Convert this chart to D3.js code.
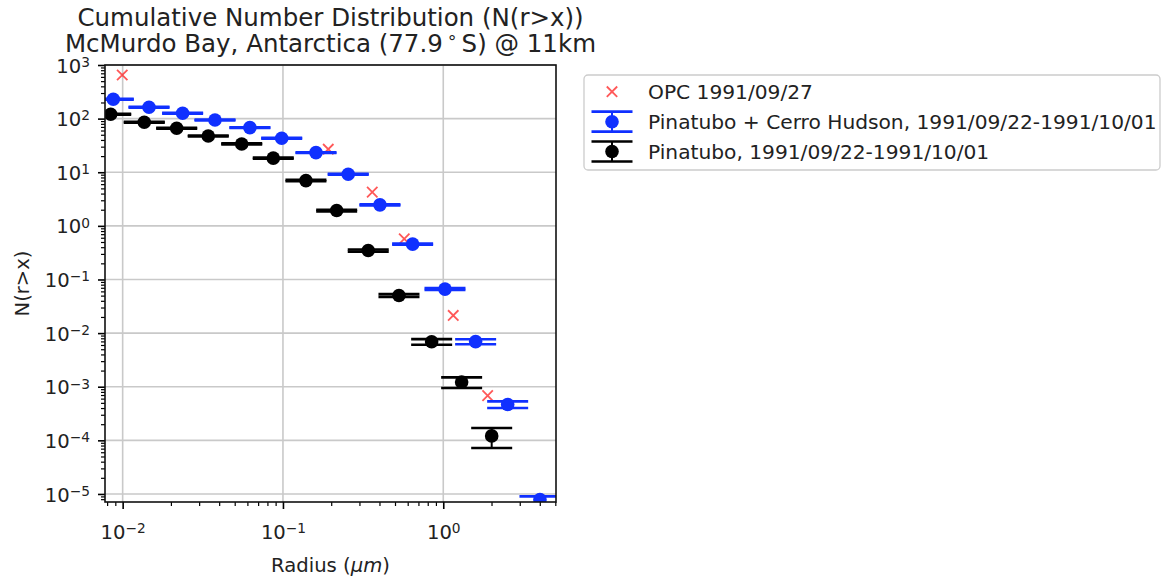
<!DOCTYPE html>
<html>
<head>
<meta charset="utf-8">
<script src="https://cdn.jsdelivr.net/npm/d3@7"></script>
<style>
  body { margin: 0; background: #fff; }
  text { font-family: "DejaVu Sans", sans-serif; }
</style>
</head>
<body>
<div id="chart"></div>
<script>
var svgWidth = 1164;
var svgHeight = 577;

var margin = { top: 65, right: 608, bottom: 75, left: 105 };
var width = svgWidth - margin.left - margin.right;
var height = svgHeight - margin.top - margin.bottom;

// OPC measurement (red crosses)
var opcRadius = [0.00994, 0.1917, 0.3606, 0.571, 1.154, 1.892];
var opcN = [651, 26.9, 4.25, 0.573, 0.02133, 0.000681];

// Pinatubo + Cerro Hudson (blue)
var combRadius = [0.00874, 0.0146, 0.02366, 0.03767, 0.0622, 0.0982, 0.1607,
  0.2553, 0.4027, 0.644, 1.025, 1.592, 2.522, 4.01];
var combN = [229.6, 163, 126, 94.4, 67.9, 43.1, 23.2, 9.19, 2.464, 0.456,
  0.0662, 0.00694, 0.000467, 7.85e-6];
var combErr = [3.0, 2.2, 1.7, 1.3, 0.9, 0.6, 0.35, 0.15, 0.05, 0.012,
  0.0025, 0.00074, 0.000066, 1.2e-6];

// Pinatubo only (black)
var pinRadius = [0.00842, 0.01364, 0.02173, 0.0342, 0.0553, 0.087, 0.1391,
  0.2163, 0.3404, 0.5293, 0.8464, 1.302, 2.005];
var pinN = [120.6, 85.6, 66.2, 47.5, 33.7, 18.3, 6.99, 1.929, 0.3467, 0.0503,
  0.0069, 0.00122, 0.000121];
var pinErr = [1.6, 1.3, 1.1, 0.9, 0.7, 0.45, 0.2, 0.07, 0.016, 0.0028,
  0.00084, 0.000274, 0.000049];

// axis limits and ticks
var xDomain = [0.00776, 5.05];
var yDomain = [7.08e-6, 1000];
var xMajorTicks = [0.01, 0.1, 1];
var xTickExp = [-2, -1, 0];
var yMajorTicks = [1e-5, 1e-4, 1e-3, 1e-2, 1e-1, 1, 10, 100, 1000];
var yTickExp = [-5, -4, -3, -2, -1, 0, 1, 2, 3];

var legendLabels = [
  "OPC 1991/09/27",
  "Pinatubo + Cerro Hudson, 1991/09/22-1991/10/01",
  "Pinatubo, 1991/09/22-1991/10/01",
];

var blue = "#1030ff";
var fontSize = 19.6;
var legendFontSize = 20.2;

var svg = d3
  .select("#chart")
  .append("svg")
  .attr("width", svgWidth)
  .attr("height", svgHeight);

var chartGroup = svg
  .append("g")
  .attr("transform", `translate(${margin.left}, ${margin.top})`);

var x = d3.scaleLog().domain(xDomain).range([0, width]);
var y = d3.scaleLog().domain(yDomain).range([height, 0]);

svg.append("defs")
  .append("clipPath")
  .attr("id", "plot-clip")
  .append("rect")
  .attr("width", width)
  .attr("height", height);

// grid
var grid = chartGroup.append("g");
grid.selectAll(".gx")
  .data(xMajorTicks)
  .enter()
  .append("line")
  .attr("x1", (d) => x(d))
  .attr("x2", (d) => x(d))
  .attr("y1", 0)
  .attr("y2", height)
  .attr("stroke", "#c9c9c9")
  .attr("stroke-width", 1.6);
grid.selectAll(".gy")
  .data(yMajorTicks)
  .enter()
  .append("line")
  .attr("x1", 0)
  .attr("x2", width)
  .attr("y1", (d) => y(d))
  .attr("y2", (d) => y(d))
  .attr("stroke", "#c9c9c9")
  .attr("stroke-width", 1.6);

var plot = chartGroup.append("g").attr("clip-path", "url(#plot-clip)");

// red crosses
function cross(g, cx, cy, s) {
  g.append("path")
    .attr("d", `M${cx - s},${cy - s}L${cx + s},${cy + s}M${cx - s},${cy + s}L${cx + s},${cy - s}`)
    .attr("stroke", "#ff2020")
    .attr("stroke-opacity", 0.75)
    .attr("stroke-width", 1.8)
    .attr("fill", "none");
}
opcRadius.forEach(function (r, i) {
  cross(plot, x(r), y(opcN[i]), 5.2);
});

// error bars with wide caps, markers on top
var capHalf = 20.5;
function errorSeries(radius, n, err, color) {
  var g = plot.append("g");
  radius.forEach(function (r, i) {
    var cx = x(r);
    var lo = n[i] - err[i];
    var yTop = y(n[i] + err[i]);
    var yBot = lo > 0 ? y(lo) : height + 50;
    g.append("line")
      .attr("x1", cx).attr("x2", cx)
      .attr("y1", yTop).attr("y2", yBot)
      .attr("stroke", color).attr("stroke-width", 2);
    [yTop, yBot].forEach(function (cy) {
      g.append("line")
        .attr("x1", cx - capHalf).attr("x2", cx + capHalf)
        .attr("y1", cy).attr("y2", cy)
        .attr("stroke", color).attr("stroke-width", 2.7);
    });
  });
  g.selectAll("circle")
    .data(radius)
    .enter()
    .append("circle")
    .attr("cx", (d) => x(d))
    .attr("cy", (d, i) => y(n[i]))
    .attr("r", 6.8)
    .attr("fill", color);
}
errorSeries(combRadius, combN, combErr, blue);
errorSeries(pinRadius, pinN, pinErr, "#000");

// axes
function supLabel(sel, exps) {
  sel.each(function (d, i) {
    var t = d3.select(this).text(null);
    var e = exps[i];
    t.append("tspan").text("10");
    t.append("tspan")
      .attr("dy", "-0.42em")
      .attr("font-size", "0.7em")
      .text(e < 0 ? "\u2212" + -e : e);
  });
}

var xAxis = chartGroup
  .append("g")
  .classed("x-axis", true)
  .attr("transform", `translate(0, ${height})`)
  .call(d3.axisBottom(x).tickValues(x.ticks().filter((d) => xMajorTicks.indexOf(d) < 0)).tickSize(4).tickFormat(""));
xAxis.selectAll("line").attr("stroke-width", 1.2);

var xAxisMajor = chartGroup
  .append("g")
  .attr("transform", `translate(0, ${height})`)
  .call(d3.axisBottom(x).tickValues(xMajorTicks).tickSize(7).tickPadding(9));
xAxisMajor.selectAll("line").attr("stroke-width", 1.6);
xAxisMajor.selectAll("text")
  .attr("font-size", fontSize)
  .attr("font-family", "DejaVu Sans")
  .attr("fill", "#222")
  .attr("dy", "1.05em")
  .call(supLabel, xTickExp);

var yAxis = chartGroup
  .append("g")
  .classed("y-axis", true)
  .call(d3.axisLeft(y).tickValues(y.ticks().filter((d) => yMajorTicks.indexOf(d) < 0)).tickSize(4).tickFormat(""));
yAxis.selectAll("line").attr("stroke-width", 1.2);

var yAxisMajor = chartGroup
  .append("g")
  .call(d3.axisLeft(y).tickValues(yMajorTicks).tickSize(7).tickPadding(8));
yAxisMajor.selectAll("line").attr("stroke-width", 1.6);
yAxisMajor.selectAll("text")
  .attr("font-size", fontSize)
  .attr("font-family", "DejaVu Sans")
  .attr("fill", "#222")
  .attr("dy", "0.36em")
  .call(supLabel, yTickExp);

chartGroup.selectAll(".domain").remove();

// frame
chartGroup.append("rect")
  .attr("width", width)
  .attr("height", height)
  .attr("fill", "none")
  .attr("stroke", "#111")
  .attr("stroke-width", 1.6);

// axis labels
var xLabel = chartGroup.append("text")
  .attr("x", width / 2)
  .attr("y", height + 70)
  .attr("text-anchor", "middle")
  .attr("font-size", fontSize)
  .attr("fill", "#222");
xLabel.append("tspan").text("Radius (");
xLabel.append("tspan").attr("font-style", "italic").text("\u03bcm");
xLabel.append("tspan").text(")");

chartGroup.append("text")
  .attr("transform", `translate(-76, ${height / 2}) rotate(-90)`)
  .attr("text-anchor", "middle")
  .attr("font-size", fontSize)
  .attr("fill", "#222")
  .text("N(r>x)");

// title
var titleSize = 24.5;
svg.append("text")
  .attr("x", margin.left + width / 2)
  .attr("y", 26)
  .attr("text-anchor", "middle")
  .attr("font-size", titleSize)
  .attr("fill", "#222")
  .text("Cumulative Number Distribution (N(r>x))");
var t2 = svg.append("text")
  .attr("x", margin.left + width / 2)
  .attr("y", 51.5)
  .attr("text-anchor", "middle")
  .attr("font-size", titleSize)
  .attr("fill", "#222");
t2.append("tspan").text("McMurdo Bay, Antarctica (77.9");
t2.append("tspan").attr("dx", 4).attr("dy", -9).attr("font-size", titleSize * 0.7).text("\u2218");
t2.append("tspan").attr("dx", 4).attr("dy", 9).text("S) @ 11km");

// legend
var legend = svg.append("g").attr("transform", "translate(584, 75)");
legend.append("rect")
  .attr("width", 576)
  .attr("height", 95)
  .attr("rx", 4)
  .attr("fill", "#fff")
  .attr("fill-opacity", 0.8)
  .attr("stroke", "#cccccc")
  .attr("stroke-width", 1.3);

var rowY = [16.7, 46.7, 76.5];
var hx = 28;
cross(legend, hx, rowY[0], 5.2);
[blue, "#000"].forEach(function (c, i) {
  var cy = rowY[i + 1];
  legend.append("line").attr("x1", hx).attr("x2", hx).attr("y1", cy - 10).attr("y2", cy + 10)
    .attr("stroke", c).attr("stroke-width", 2);
  [cy - 10, cy + 10].forEach(function (yy) {
    legend.append("line").attr("x1", hx - capHalf).attr("x2", hx + capHalf)
      .attr("y1", yy).attr("y2", yy).attr("stroke", c).attr("stroke-width", 2.7);
  });
  legend.append("circle").attr("cx", hx).attr("cy", cy).attr("r", 6.8).attr("fill", c);
});
legend.selectAll(".ltext")
  .data(legendLabels)
  .enter()
  .append("text")
  .attr("x", 64)
  .attr("y", (d, i) => rowY[i])
  .attr("dy", "0.36em")
  .attr("font-size", legendFontSize)
  .attr("fill", "#222")
  .text((d) => d);
</script>
</body>
</html>
